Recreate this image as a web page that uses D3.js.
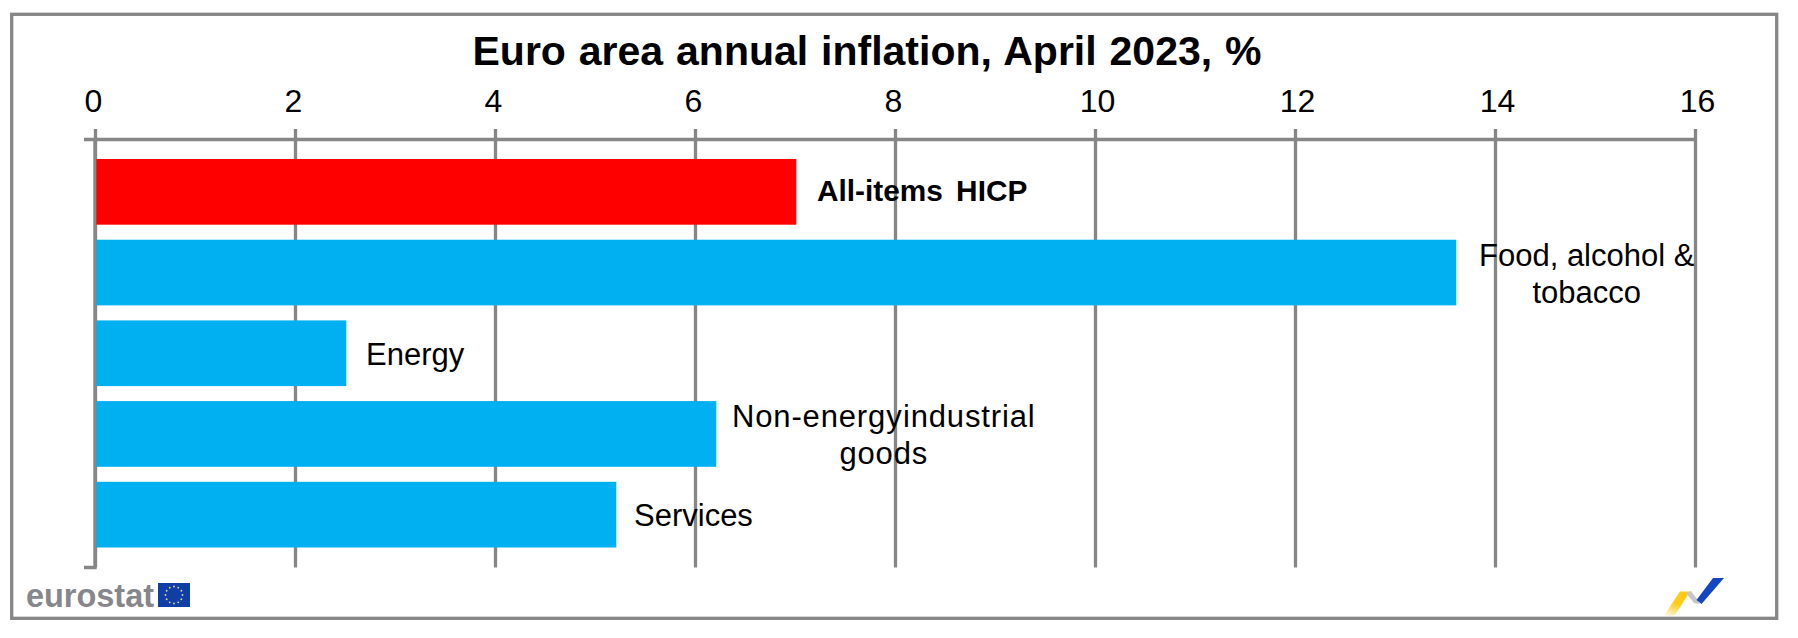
<!DOCTYPE html>
<html>
<head>
<meta charset="utf-8">
<title>Euro area annual inflation, April 2023, %</title>
<script src="https://cdn.jsdelivr.net/npm/d3@7"></script>
<style>
  html, body { margin: 0; padding: 0; background: #fff; }
  svg { display: block; }
  text { font-family: "Liberation Sans", Arial, sans-serif; fill: #000; white-space: pre; }
</style>
</head>
<body>
<div id="chart"></div>
<script>
var categories = ["All-items HICP", "Food, alcohol & tobacco", "Energy", "Non-energy industrial goods", "Services"];
var values = [7.0, 13.6, 2.5, 6.2, 5.2];
var labelLines = [["All-items HICP"], ["Food, alcohol &", "tobacco"], ["Energy"], ["Non-energy industrial", "goods"], ["Services"]];
var tickValues = [0, 2, 4, 6, 8, 10, 12, 14, 16];
var chartTitle = "Euro area annual inflation, April 2023, %";

var width = 1798, height = 638,
    grey = "#868686",
    plotTop = 139.5, plotBottom = 567.5;

var svg = d3.select("#chart").append("svg")
  .attr("width", width)
  .attr("height", height);

var x = d3.scaleLinear().domain([0, 16]).range([95, 1695]);

var y = d3.scaleBand()
  .domain(categories)
  .range([151.5, 555])
  .paddingInner(0.186)
  .paddingOuter(0.093);

// outer frame
svg.append("rect")
  .attr("x", 11.7).attr("y", 14.3)
  .attr("width", 1765).attr("height", 604)
  .attr("fill", "none")
  .attr("stroke", grey)
  .attr("stroke-width", 3.3);

svg.append("text")
  .attr("x", 867).attr("y", 65)
  .attr("text-anchor", "middle")
  .attr("font-size", 41)
  .attr("font-weight", "bold")
  .attr("word-spacing", 1.5)
  .text(chartTitle);

// value axis on top, its ticks run down as the gridlines
var axis = d3.axisTop(x).tickValues(tickValues).tickSize(0).tickPadding(0);

var axisG = svg.append("g")
  .attr("transform", "translate(0," + plotTop + ")")
  .call(axis);

axisG.select(".domain").remove();
axisG.selectAll(".tick line")
  .attr("y1", -10.5)
  .attr("y2", plotBottom - plotTop)
  .attr("stroke", grey)
  .attr("stroke-width", 3.3);
axisG.selectAll(".tick text")
  .attr("y", -27.8)
  .attr("dy", 0)
  .attr("dx", function(d) { return d < 10 ? -2 : 2; })
  .attr("font-size", 32)
  .style("font-family", "\"Liberation Sans\", Arial, sans-serif")
  .attr("fill", "#000");

svg.append("line")
  .attr("x1", x(0)).attr("x2", x(16))
  .attr("y1", plotTop).attr("y2", plotTop)
  .attr("stroke", grey).attr("stroke-width", 3.3);

// category axis, only the two end ticks show
svg.append("path")
  .attr("d", "M84," + plotTop + "H" + x(0) + "V" + plotBottom + "H84")
  .attr("fill", "none")
  .attr("stroke", grey)
  .attr("stroke-width", 3.3);

svg.selectAll("rect.bar")
  .data(values)
  .enter().append("rect")
  .attr("class", "bar")
  .attr("x", x(0) + 1.3)
  .attr("y", function(d, i) { return y(categories[i]); })
  .attr("width", function(d) { return x(d) - x(0); })
  .attr("height", y.bandwidth())
  .attr("fill", function(d, i) { return i == 0 ? "#ff0000" : "#00b0f0"; });

// labels beside the bar ends, wrapped ones are centred on their widest line
var labelGap = [22, 24, 21, 17, 19];

var labels = svg.selectAll("text.label")
  .data(labelLines)
  .enter().append("text")
  .attr("class", "label")
  .attr("font-size", function(d, i) { return i == 0 ? 29.8 : 31; })
  .attr("font-weight", function(d, i) { return i == 0 ? "bold" : "normal"; })
  .attr("word-spacing", function(d, i) { return i == 0 ? 5 : i == 3 ? -9 : 0; })
  .attr("letter-spacing", function(d, i) { return i == 3 ? 0.85 : 0; });

labels.each(function(lines, i) {
  var el = d3.select(this),
      cy = y(categories[i]) + y.bandwidth() / 2,
      lineHeight = 37,
      firstBase = cy + (i == 0 ? 9.5 : 11.5) - (lines.length - 1) * lineHeight / 2,
      left = x(values[i]) + labelGap[i];

  el.selectAll("tspan")
    .data(lines)
    .enter().append("tspan")
    .text(function(d) { return d; })
    .attr("y", function(d, j) { return firstBase + j * lineHeight; });

  if (lines.length > 1) {
    var widest = el.select("tspan").node().getComputedTextLength();
    el.attr("text-anchor", "middle");
    el.selectAll("tspan").attr("x", left + widest / 2);
  } else {
    el.selectAll("tspan").attr("x", left);
  }
});

// eurostat wordmark and flag
svg.append("text")
  .attr("x", 26).attr("y", 606.5)
  .attr("font-size", 33)
  .attr("font-weight", "bold")
  .attr("textLength", 128)
  .attr("lengthAdjust", "spacingAndGlyphs")
  .style("fill", "#85878c")
  .text("eurostat");

svg.append("rect")
  .attr("x", 158).attr("y", 583)
  .attr("width", 32).attr("height", 24)
  .attr("fill", "#0f3fa6");

svg.selectAll("circle.star")
  .data(d3.range(12))
  .enter().append("circle")
  .attr("class", "star")
  .attr("cx", function(d) { return 174 + 8.5 * Math.cos(d * Math.PI / 6); })
  .attr("cy", function(d) { return 595 + 8.5 * Math.sin(d * Math.PI / 6); })
  .attr("r", 0.9)
  .attr("fill", "#e8d77a");

// small logo bottom right
var defs = svg.append("defs");
var fade = defs.append("linearGradient")
  .attr("id", "fade")
  .attr("x1", 0.6).attr("y1", 0).attr("x2", 0.2).attr("y2", 1);
fade.append("stop").attr("offset", "45%").attr("stop-color", "#ffcb16");
fade.append("stop").attr("offset", "100%").attr("stop-color", "#ffcb16").attr("stop-opacity", 0.1);

svg.append("path")
  .attr("d", "M1663,617L1680,591.5H1690L1675,615Z")
  .attr("fill", "url(#fade)");
svg.append("path")
  .attr("d", "M1686,593L1691,591L1697,599L1700,604L1694,603Z")
  .attr("fill", "#c4c6c8");
svg.append("path")
  .attr("d", "M1696.5,600L1713,578H1724L1701.5,604Z")
  .attr("fill", "#1446c2");
</script>
</body>
</html>
